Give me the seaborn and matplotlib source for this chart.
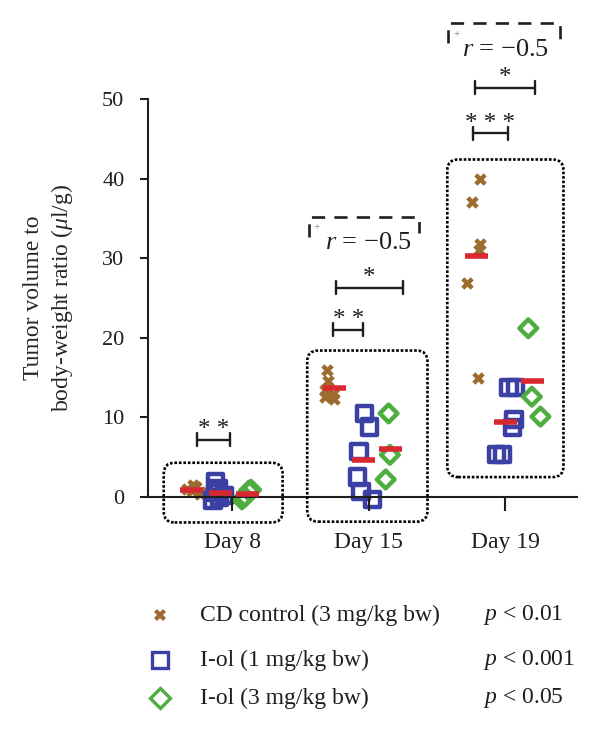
import numpy as np
import pandas as pd
import matplotlib
matplotlib.use("Agg")
import matplotlib.pyplot as plt
import seaborn as sns
from matplotlib.patches import FancyBboxPatch
from matplotlib.lines import Line2D
from matplotlib.transforms import IdentityTransform

# Values
days = ["Day 8", "Day 15", "Day 19"]
groups = ["CD control (3 mg/kg bw)", "I-ol (1 mg/kg bw)", "I-ol (3 mg/kg bw)"]
p_labels = ["$p$ < 0.01", "$p$ < 0.001", "$p$ < 0.05"]

cd_day8 = [1.5, 1.2, 1.0, 0.8, 0.6, 0.4]
cd_day15 = [16.0, 14.6, 13.4, 12.9, 12.6, 12.3]
cd_day19 = [40.0, 37.0, 31.8, 31.0, 26.9, 15.0]

iol1_day8 = [1.9, 1.1, 0.6, 0.2, -0.1, -0.4]
iol1_day15 = [10.5, 8.8, 5.7, 2.5, 0.7, -0.3]
iol1_day19 = [13.8, 13.8, 9.7, 8.7, 5.3, 5.3]

iol3_day8 = [0.9, 0.8, 0.0, -0.3]
iol3_day15 = [10.5, 5.3, 2.2]
iol3_day19 = [21.2, 12.6, 10.1]

series = {
    groups[0]: [cd_day8, cd_day15, cd_day19],
    groups[1]: [iol1_day8, iol1_day15, iol1_day19],
    groups[2]: [iol3_day8, iol3_day15, iol3_day19],
}

# layout: group offsets inside each day, small shift of each day cluster
offsets = {groups[0]: -0.21, groups[1]: 0.0, groups[2]: 0.2}
day_shift = [-0.085, -0.04, 0.0]

rows = []
for g, per_day in series.items():
    for i, (d, vals) in enumerate(zip(days, per_day)):
        for v in vals:
            rows.append({"day": d, "group": g, "pos": i + day_shift[i] + offsets[g], "value": v})
df = pd.DataFrame(rows)

colors = {groups[0]: "#9C6B2E", groups[1]: "#3B40A4", groups[2]: "#4DAE3F"}
red = "#D9282F"
ink = "#1E1E1E"

sns.set_style("ticks")
plt.rcParams["font.family"] = ["Liberation Serif", "DejaVu Serif"]
plt.rcParams["mathtext.fontset"] = "custom"
plt.rcParams["mathtext.rm"] = "Liberation Serif"
plt.rcParams["mathtext.it"] = "Liberation Serif:italic"
plt.rcParams["axes.edgecolor"] = ink
plt.rcParams["axes.linewidth"] = 1.5
plt.rcParams["text.color"] = ink

fig = plt.figure(figsize=(6, 7.35), dpi=100)
ax = fig.add_axes([148 / 600, 1 - 497 / 735, 429 / 600, 398 / 735])

styles = [
    dict(marker="X", size=9, linewidth=0, hollow=False),
    dict(marker="s", size=11, linewidth=3.2, hollow=True),
    dict(marker="D", size=9, linewidth=3.2, hollow=True),
]
np.random.seed(3)
for g, st in zip(groups, styles):
    n0 = len(ax.collections)
    sns.stripplot(data=df[df["group"] == g], x="pos", y="value", native_scale=True,
                  color=colors[g], jitter=0.075, marker=st["marker"], size=st["size"],
                  linewidth=st["linewidth"], ax=ax, clip_on=False, zorder=3)
    for c in ax.collections[n0:]:
        if st["hollow"]:
            c.set_facecolor("none")
        c.set_edgecolor(colors[g])

ax.set_xlim(-0.615, 2.524)
ax.set_ylim(0, 50)
ax.set_xticks(range(len(days)), days)
ax.set_yticks(range(0, 51, 10))
ax.set_xlabel("")
ax.set_ylabel("Tumor volume to\nbody-weight ratio ($\\mu$l/g)", fontsize=17, linespacing=1.25)
ax.yaxis.set_label_coords(-0.17, 0.5)
ax.tick_params(axis="y", length=6, width=1.5, pad=11, labelsize=16, color=ink, labelcolor=ink)
ax.tick_params(axis="x", length=10, width=1.5, pad=15, labelsize=17, color=ink, labelcolor=ink)
sns.despine(ax=ax)
# axis line and ticks drawn over the markers
for sp in ax.spines.values():
    sp.set_zorder(4)
ax.xaxis.set_zorder(4)

# mean lines
means = df.groupby(["day", "group"])["value"].mean()
for i, d in enumerate(days):
    for g in groups:
        x = i + day_shift[i] + offsets[g]
        ax.hlines(means[(d, g)], x - 0.085, x + 0.085, color=red, lw=4, zorder=5, clip_on=False)

# dotted rounded boxes around each day
box_x = [(-0.5, 0.37), (-0.45, 0.43), (-0.425, 0.425)]
for i, d in enumerate(days):
    vals = df.loc[df["day"] == d, "value"]
    (x0, y0) = ax.transData.transform((i + box_x[i][0], vals.min() - 2.8))
    (x1, y1) = ax.transData.transform((i + box_x[i][1], vals.max() + 2.4))
    box = FancyBboxPatch((x0, y0), x1 - x0, y1 - y0,
                         boxstyle="round,pad=0,rounding_size=11",
                         transform=IdentityTransform(), fill=False,
                         edgecolor="black", lw=1.9, linestyle=(0, (1, 0.7)))
    fig.add_artist(box)


def bracket(x0, x1, y, label):
    ax.plot([x0, x1], [y, y], color=ink, lw=1.7, clip_on=False)
    for xx in (x0, x1):
        ax.plot([xx, xx], [y - 0.8, y + 0.8], color=ink, lw=1.7, clip_on=False)
    ax.text((x0 + x1) / 2, y - 0.2, label, ha="center", va="bottom", fontsize=18)


def dashed_bracket(xc, x0, x1, ytop, yl, yr):
    ax.plot([xc + x0, xc + x0, xc + x1, xc + x1], [yl, ytop, ytop, yr], color=ink,
            lw=1.9, linestyle=(0, (5, 3.5)), clip_on=False)
    ax.text(xc, ytop - 1.9, "$r$ = \u22120.5", ha="center", va="top", fontsize=19)
    ax.text(xc + x0 + 0.06, ytop - 0.8, "+", ha="center", va="top", fontsize=8, color="#666666")


bracket(-0.26, -0.015, 7.2, "* *")
bracket(1 - 0.26, 1 - 0.04, 21.0, "* *")
bracket(1 - 0.24, 1 + 0.25, 26.3, "*")
bracket(2 - 0.24, 2 + 0.02, 45.7, "* * *")
bracket(2 - 0.22, 2 + 0.22, 51.4, "*")
dashed_bracket(1, -0.44, 0.37, 35.2, 32.7, 33.2)
dashed_bracket(2, -0.42, 0.40, 59.5, 57.0, 57.0)

# legend
leg_y = [615, 660, 698]
leg_markers = [dict(marker="X", ms=8, mew=0), dict(marker="s", ms=11, mew=2.4, mfc="none"),
               dict(marker="D", ms=10, mew=2.4, mfc="none")]
for g, yy, mk, pl in zip(groups, leg_y, leg_markers, p_labels):
    fy = 1 - yy / 735
    fig.add_artist(Line2D([160 / 600], [fy], color=colors[g], mec=colors[g],
                          transform=fig.transFigure, linestyle="none", **mk))
    fig.text(200 / 600, fy, g, ha="left", va="center", fontsize=17)
    fig.text(483 / 600, fy, pl, ha="left", va="center", fontsize=17)

fig.savefig("out.png", dpi=100)
